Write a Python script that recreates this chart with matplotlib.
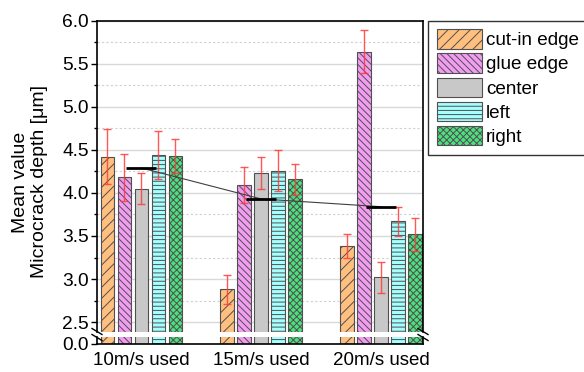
import matplotlib
matplotlib.use("Agg")
import matplotlib.pyplot as plt
import numpy as np
from matplotlib.ticker import MultipleLocator

plt.rcParams['font.family'] = ['Liberation Sans', 'DejaVu Sans']
plt.rcParams['hatch.linewidth'] = 0.7

groups = ["10m/s used", "15m/s used", "20m/s used"]
series = ["cut-in edge", "glue edge", "center", "left", "right"]
cut_in = [4.42, 2.88, 3.38]
glue = [4.18, 4.09, 5.64]
center = [4.05, 4.23, 3.02]
left = [4.44, 4.26, 3.67]
right = [4.43, 4.16, 3.52]
cut_in_err = [0.32, 0.17, 0.14]
glue_err = [0.27, 0.21, 0.25]
center_err = [0.18, 0.19, 0.18]
left_err = [0.28, 0.24, 0.17]
right_err = [0.20, 0.18, 0.19]
means = [4.29, 3.93, 3.84]

values = [cut_in, glue, center, left, right]
errors = [cut_in_err, glue_err, center_err, left_err, right_err]
colors = ['#FFBF7F', '#F29CF2', '#C8C8C8', '#A6FFFF', '#4CE07F']
hatches = ['///', '\\\\\\\\\\', '', '----', 'xxxxx']

fig = plt.figure(figsize=(5.84, 3.72), dpi=100)
L, R = 97/584, 423/584
ax = fig.add_axes([L, 1-332/372, R-L, (332-20.7)/372])
axb = fig.add_axes([L, 1-343.5/372, R-L, (343.5-337)/372])

x = np.arange(len(groups))
step = 0.142
width = 0.113
for a in (ax, axb):
    for i, (vals, col, h) in enumerate(zip(values, colors, hatches)):
        a.bar(x + (i-2)*step, vals, width, color=col, edgecolor='#505050',
              hatch=h, linewidth=0.8, zorder=2, label=series[i])
    a.set_xlim(-0.37, 2.35)
    a.set_axisbelow(True)

for i, (vals, errs) in enumerate(zip(values, errors)):
    ax.errorbar(x + (i-2)*step, vals, yerr=errs, fmt='none', ecolor='#FF3B3B',
                elinewidth=1, capsize=3, capthick=1, zorder=4, alpha=0.85)

ax.plot(x, means, color='#404040', lw=0.8, zorder=5)
ax.hlines(means, x-0.125, x+0.125, colors='black', lw=2, zorder=6)

ax.set_ylim(2.385, 6.0)
ax.yaxis.set_major_locator(MultipleLocator(0.5))
ax.yaxis.set_minor_locator(MultipleLocator(0.25))
ax.grid(True, which='major', axis='y', color='#D9D9D9', lw=1)
ax.grid(True, which='minor', axis='y', color='#D0D0D0', lw=0.8, ls=(0, (2, 2)))
ax.spines['bottom'].set_visible(False)
ax.tick_params(axis='x', bottom=False, labelbottom=False)
ax.tick_params(axis='y', which='major', direction='out', length=4, labelsize=13.8, width=1, pad=2)
ax.tick_params(axis='y', which='minor', direction='out', length=2.5, width=1)

axb.set_ylim(0, 0.075)
axb.set_yticks([0.0])
axb.set_yticklabels(['0.0'])
axb.spines['top'].set_visible(False)
axb.set_xticks(x)
axb.set_xticklabels(groups)
axb.tick_params(axis='x', length=0, labelsize=13.5, pad=6)
axb.tick_params(axis='y', direction='out', length=4, labelsize=13.8, width=1, pad=2)

for a in (ax, axb):
    for s in a.spines.values():
        s.set_linewidth(1.2)
        s.set_color('black')

# break marks
def brk(xc, yc):
    for dy in (-3, 3):
        x0, y0 = xc - 5, yc + dy - 3
        x1, y1 = xc + 5, yc + dy + 3
        fig.add_artist(plt.Line2D([x0/584, x1/584], [1-y0/372, 1-y1/372],
                                  color='black', lw=1.0))
brk(97, 334.5)
brk(423, 334.5)

fig.text(30/584, 1-182/372, "Mean value\nMicrocrack depth [\u03bcm]", rotation=90,
         ha='center', va='center', fontsize=14, linespacing=1.1)

handles, labels = ax.get_legend_handles_labels()
leg = fig.legend(handles, labels, loc='upper left', bbox_to_anchor=(428/584, 1-20.7/372),
                 borderaxespad=0, fontsize=13.6, handlelength=2.4, handleheight=1.2,
                 labelspacing=0.22, handletextpad=0.22, borderpad=0.45,
                 fancybox=False, framealpha=1, edgecolor='#333333')
leg.get_frame().set_linewidth(1.0)

fig.savefig('out.png', dpi=100)
